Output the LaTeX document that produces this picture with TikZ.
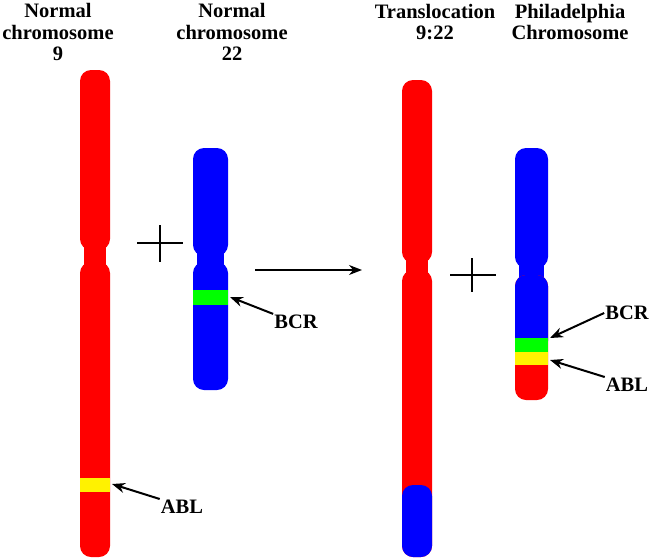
\documentclass[tikz,border=0pt]{standalone}
\usetikzlibrary{arrows.meta}
\usepackage{fontspec}
\setmainfont{Liberation Serif}
\begin{document}
\begin{tikzpicture}[x=1pt,y=-1pt,
 arm/.style={rounded corners=11pt},
 lab/.style={font=\bfseries\fontsize{20.5}{21.5}\selectfont,align=center,inner sep=1pt},
 arr/.style={-{Stealth[length=13pt,width=10pt]},line width=2pt}]
\useasboundingbox (0,0) rectangle (650,557);
% chr 9
\fill[red,arm] (80,70) rectangle (110,250);
\fill[red] (84,240) rectangle (106,275);
\fill[red,arm] (80,262) rectangle (110,557);
\fill[yellow] (80,478) rectangle (110,492);
% chr 22
\fill[blue,arm] (193,148) rectangle (228,256);
\fill[blue] (197,248) rectangle (224,270);
\fill[blue,arm] (193,262) rectangle (228,390);
\fill[green] (193,290) rectangle (228,305);
% translocation
\fill[red,arm] (402,80) rectangle (432,263);
\fill[red] (406,252) rectangle (428,280);
\fill[red,arm] (402,270) rectangle (432,557);
\fill[blue,arm] (402,485) rectangle (432,557);
% philadelphia
\fill[blue,arm] (515,148) rectangle (548,268);
\fill[blue] (519,258) rectangle (544,282);
\fill[red,arm] (515,275) rectangle (548,400);
\fill[blue,arm] (515,275) rectangle (548,352);
\fill[green] (515,338) rectangle (548,352);
\fill[yellow] (515,352) rectangle (548,365);
\fill[red] (515,365) rectangle (548,375);
% labels
\node[lab] (t1) at (58,32) {Normal\\chromosome\\9};
\node[lab] (t2) at (232,32) {Normal\\chromosome\\22};
\node[lab] (t3) at (435,22) {Translocation\\9:22};
\node[lab] (t4) at (570,22) {Philadelphia\\Chromosome};
\node[lab] (abl1) at (182,507) {ABL};
\node[lab] (bcr1) at (296,322) {BCR};
\node[lab] (bcr2) at (627,313) {BCR};
\node[lab] (abl2) at (627,385) {ABL};
\coordinate (a1) at (112,484);
\coordinate (b1) at (230,297);
\coordinate (b2) at (550,338);
\coordinate (a2) at (550,360);
\draw[arr] (abl1.north west) -- (a1);
\draw[arr] (bcr1.north west) -- (b1);
\draw[arr] (bcr2.west) -- (b2);
\draw[arr] (abl2.north west) -- (a2);
% plus signs
\draw[line width=1.1pt] (137,243) -- (183,243) (160,225) -- (160,262);
\draw[line width=1.1pt] (450,275) -- (496,275) (472,258) -- (472,292);
\coordinate (m1) at (255,270);
\coordinate (m2) at (362,270);
\draw[-{Stealth[length=13pt,width=10pt]},line width=1.3pt] (m1) -- (m2);
\end{tikzpicture}
\end{document}
